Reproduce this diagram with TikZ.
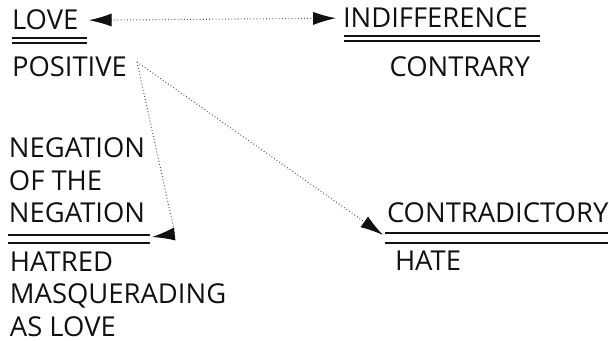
\documentclass[tikz,border=0pt]{standalone}
\usepackage{fontspec}
\setmainfont{Open Sans}
\usetikzlibrary{arrows.meta}
\usepackage{xcolor}
\definecolor{ink}{HTML}{111111}

\begin{document}
\begin{tikzpicture}[x=0.02cm,y=-0.02cm,
        word/.style={inner sep=0pt,outer sep=0pt,font=\fontsize{15.6}{18.4}\selectfont,text=ink,align=left},
        rule/.style={draw=ink,line width=1.1pt},
        conn/.style={draw=ink!70,line width=0.6pt,dash pattern=on 0.5pt off 1.3pt,-{Latex[length=13pt,width=7.5pt,color=ink]}}]
        \useasboundingbox (0,0) rectangle (609,341);
        % upper row
        \node [word,anchor=base west] (love) at (12,30) {LOVE};
        \node [word,anchor=base west] (positive) at (12,77) {POSITIVE};
        \node [word,anchor=base west] (indiff) at (343,28) {INDIFFERENCE};
        \node [word,anchor=base east] (contrary) at (530,77) {CONTRARY};
        % lower row
        \node [word,anchor=north west] (negation) at (9,138) {NEGATION\\OF THE\\NEGATION};
        \node [word,anchor=north west] (hatred) at (10,252) {HATRED\\MASQUERADING\\AS LOVE};
        \node [word,anchor=base west] (contra) at (387,222) {CONTRADICTORY};
        \node [word,anchor=base west] (hate) at (395,270) {HATE};
        % double rules
        \draw [rule] (12,38) -- (87,38);
        \draw [rule,line width=0.8pt] (12,43) -- (87,43);
        \draw [rule] (344,36) -- (540,36);
        \draw [rule,line width=0.8pt] (344,41) -- (540,41);
        \draw [rule] (8,235) -- (150,235);
        \draw [rule] (8,243) -- (150,243);
        \draw [rule] (385,233) -- (608,233);
        \draw [rule,line width=0.8pt] (385,243) -- (608,243);
        % connectors
        \coordinate (fork) at (137,62);
        \coordinate (negtip) at (152,237);
        \coordinate (contratip) at (383,235);
        \draw [conn,{Latex[length=13pt,width=7.5pt,color=ink]}-{Latex[length=13pt,width=7.5pt,color=ink]}]
            ([xshift=6pt]love.east) -- ([xshift=-4pt]indiff.west);
        \draw [conn] (fork) -- (175,234) -- (negtip);
        \draw [conn] (fork) -- (contratip);
\end{tikzpicture}
\end{document}
